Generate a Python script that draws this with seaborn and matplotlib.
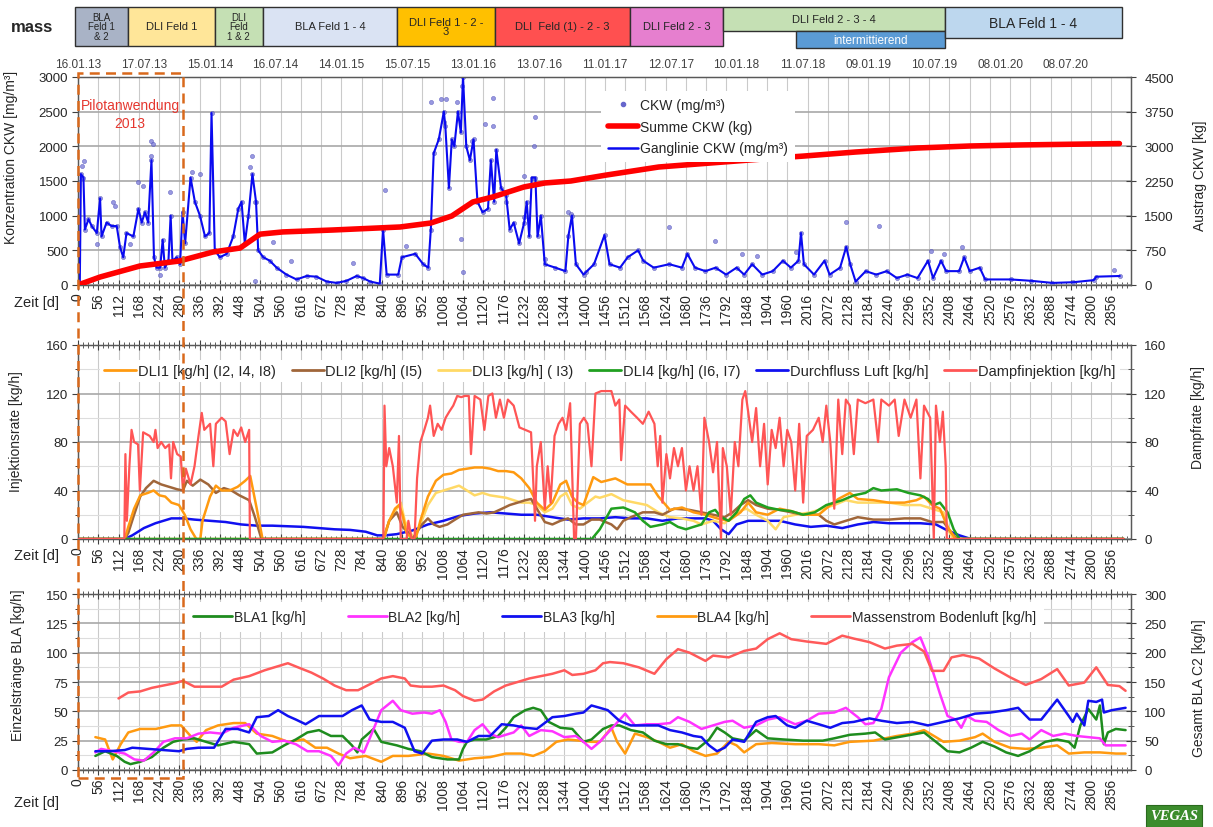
import numpy as np
import pandas as pd
import matplotlib
matplotlib.use("Agg")
import matplotlib.pyplot as plt
import seaborn as sns
from matplotlib.patches import Rectangle
from matplotlib.lines import Line2D
from matplotlib.ticker import MultipleLocator, FixedLocator
import matplotlib.transforms as mtransforms

# ---------------- DATA ----------------
XMAX = 2910
date_days = [0, 182, 364, 546, 728, 910, 1092, 1274, 1456, 1638, 1820, 2002, 2184, 2366, 2548, 2730]
date_labels = ["16.01.13", "17.07.13", "15.01.14", "16.07.14", "14.01.15", "15.07.15", "13.01.16",
               "13.07.16", "11.01.17", "12.07.17", "10.01.18", "11.07.18", "09.01.19", "10.07.19",
               "08.01.20", "08.07.20"]

phase_start = [-8, 138, 378, 511, 881, 1152, 1525, 1782, 1983, 2395]
phase_end = [138, 378, 511, 881, 1152, 1525, 1782, 2395, 2395, 2884]
phase_labels = ["BLA\nFeld 1\n& 2", "DLI Feld 1", "DLI\nFeld\n1 & 2", "BLA Feld 1 - 4", "DLI Feld 1 - 2 -\n3",
                "DLI  Feld (1) - 2 - 3", "DLI Feld 2 - 3", "DLI Feld 2 - 3 - 4", "intermittierend",
                "BLA Feld 1 - 4"]

# top panel: CKW concentration (mg/m3) and cumulative discharge (kg)
ckw_line = [(0, 0), (5, 30), (8, 1600), (15, 1550), (19, 800), (29, 950), (38, 850), (52, 750), (61, 1250),
            (65, 700), (79, 900), (93, 850), (107, 850), (116, 550), (125, 400), (134, 750), (153, 700),
            (167, 1100), (176, 900), (185, 1050), (194, 900), (203, 1800), (210, 400), (217, 250), (227, 250),
            (234, 650), (240, 250), (250, 350), (256, 1000), (261, 350), (273, 400), (282, 300), (289, 1050),
            (296, 600), (311, 1550), (323, 1200), (337, 1000), (351, 700), (363, 750), (369, 2480), (378, 500),
            (392, 400), (411, 450), (429, 700), (443, 1100), (452, 1200), (461, 600), (471, 1000), (482, 1600),
            (492, 1200), (498, 500), (512, 400), (530, 350), (549, 250), (576, 150), (604, 80), (632, 130),
            (659, 120), (687, 50), (715, 30), (742, 60), (770, 130), (788, 100), (807, 50), (834, 20),
            (843, 800), (853, 150), (885, 150), (895, 400), (932, 450), (954, 300), (968, 250), (975, 800),
            (983, 1900), (997, 2100), (1011, 2500), (1015, 2300), (1025, 1400), (1033, 2100), (1040, 2000),
            (1050, 2500), (1058, 2200), (1064, 3000), (1073, 2000), (1083, 1800), (1093, 2100), (1104, 1200),
            (1118, 1050), (1133, 1100), (1141, 1800), (1150, 1200), (1156, 1950), (1169, 1400), (1183, 1300),
            (1193, 800), (1204, 900), (1219, 600), (1233, 900), (1240, 1200), (1247, 700), (1254, 1550),
            (1264, 1550), (1270, 700), (1279, 1000), (1290, 300), (1319, 250), (1347, 200), (1355, 700),
            (1365, 1000), (1376, 300), (1397, 150), (1426, 300), (1455, 720), (1469, 300), (1498, 250),
            (1519, 400), (1548, 500), (1562, 350), (1591, 250), (1634, 300), (1669, 250), (1684, 450),
            (1705, 250), (1734, 200), (1762, 250), (1791, 150), (1820, 250), (1841, 150), (1863, 300),
            (1891, 150), (1920, 200), (1948, 350), (1970, 250), (1991, 350), (1998, 750), (2006, 300),
            (2034, 150), (2063, 350), (2077, 150), (2106, 250), (2123, 550), (2134, 300), (2149, 50),
            (2177, 200), (2206, 150), (2235, 200), (2263, 100), (2292, 150), (2320, 100), (2349, 350),
            (2363, 100), (2385, 350), (2399, 200), (2435, 200), (2449, 400), (2464, 200), (2492, 250),
            (2507, 80), (2578, 80), (2635, 60), (2693, 30), (2750, 40), (2807, 70), (2814, 120), (2879, 130)]

ckw_extra_pts = [(10, 1722), (17, 1794), (52, 592), (98, 1193), (102, 1145), (144, 592), (165, 1481),
                 (180, 1433), (201, 1866), (203, 2083), (208, 2035), (226, 144), (254, 1337), (314, 1626),
                 (337, 1602), (475, 1698), (482, 1866), (489, 1193), (489, 63), (540, 616), (590, 351),
                 (761, 317), (848, 1376), (907, 568), (975, 2645), (1004, 2684), (1011, 2347), (1018, 2684),
                 (1047, 2636), (1058, 664), (1061, 2867), (1064, 183), (1090, 2083), (1126, 2323),
                 (1147, 2694), (1147, 2300), (1176, 1337), (1183, 1193), (1233, 976), (1233, 1578),
                 (1259, 2010), (1264, 2419), (1290, 375), (1355, 1049), (1362, 1025), (1405, 183),
                 (1634, 832), (1760, 640), (1834, 447), (1877, 423), (1984, 471), (2123, 904), (2213, 856),
                 (2356, 495), (2392, 447), (2442, 543), (2864, 221)]

summe_ckw = [(0, 0), (61, 173), (171, 411), (280, 519), (373, 714), (448, 800), (503, 1100), (566, 1148),
             (705, 1190), (890, 1255), (975, 1341), (1033, 1493), (1091, 1796), (1146, 1904), (1232, 2120),
             (1290, 2207), (1362, 2250), (1461, 2380), (1605, 2553), (1749, 2640), (1892, 2726), (2006, 2790),
             (2149, 2877), (2320, 2964), (2464, 3007), (2608, 3030), (2878, 3060)]

# middle panel: injection rates (kg/h)
dli1 = [(0, 0), (129, 0), (139, 10), (155, 25), (172, 36), (193, 38), (209, 40), (225, 36), (241, 35), (258, 30),
        (279, 28), (295, 20), (311, 8), (327, 0), (338, 0), (344, 15), (365, 35), (381, 44), (397, 40), (419, 40),
        (441, 43), (462, 48), (476, 52), (494, 25), (510, 0), (844, 0), (860, 15), (876, 25), (887, 28),
        (897, 20), (908, 5), (924, 0), (933, 0), (946, 15), (967, 35), (989, 48), (1010, 53), (1032, 54),
        (1053, 57), (1075, 58), (1096, 59), (1118, 59), (1139, 58), (1161, 56), (1183, 56), (1204, 55),
        (1225, 50), (1247, 42), (1268, 30), (1290, 24), (1311, 30), (1333, 45), (1349, 48), (1365, 35),
        (1381, 30), (1397, 28), (1424, 51), (1446, 47), (1485, 50), (1518, 45), (1550, 45), (1582, 45),
        (1604, 35), (1636, 24), (1669, 26), (1701, 22), (1734, 20), (1766, 17), (1798, 15), (1831, 22),
        (1852, 30), (1874, 22), (1906, 20), (1939, 25), (1971, 23), (2004, 20), (2047, 20), (2079, 28),
        (2101, 33), (2133, 38), (2155, 33), (2198, 32), (2241, 30), (2284, 30), (2317, 32), (2338, 35),
        (2360, 28), (2382, 25), (2403, 10), (2425, 0), (2890, 0)]
dli2 = [(0, 0), (129, 0), (139, 5), (155, 20), (172, 35), (188, 42), (209, 48), (230, 45), (252, 43), (274, 41),
        (290, 40), (301, 48), (317, 44), (338, 49), (360, 45), (381, 38), (403, 42), (424, 40), (446, 36),
        (473, 32), (489, 18), (507, 0), (844, 0), (860, 15), (881, 22), (897, 10), (913, 5), (924, 0), (935, 5),
        (951, 12), (967, 17), (983, 12), (999, 10), (1021, 12), (1042, 16), (1064, 20), (1086, 21), (1107, 22),
        (1129, 21), (1150, 22), (1172, 25), (1193, 28), (1215, 30), (1236, 32), (1252, 33), (1268, 25),
        (1290, 14), (1311, 12), (1333, 15), (1354, 17), (1376, 12), (1397, 12), (1419, 16), (1442, 16),
        (1474, 12), (1490, 8), (1507, 15), (1528, 18), (1561, 22), (1593, 22), (1615, 20), (1647, 25),
        (1690, 24), (1723, 22), (1755, 20), (1787, 18), (1809, 22), (1831, 28), (1852, 32), (1874, 28),
        (1906, 25), (1939, 24), (1971, 22), (2004, 20), (2047, 20), (2068, 15), (2090, 12), (2122, 15),
        (2155, 18), (2198, 16), (2241, 16), (2284, 17), (2328, 17), (2360, 14), (2392, 14), (2414, 5),
        (2430, 0), (2890, 0)]
dli3 = [(0, 0), (846, 0), (860, 15), (881, 25), (892, 30), (903, 15), (919, 5), (930, 0), (946, 12), (967, 28),
        (989, 38), (1010, 40), (1032, 42), (1053, 44), (1075, 40), (1096, 36), (1118, 38), (1139, 36),
        (1161, 35), (1183, 34), (1204, 32), (1225, 30), (1247, 30), (1268, 28), (1290, 22), (1311, 25),
        (1333, 35), (1349, 38), (1365, 28), (1387, 25), (1408, 30), (1430, 35), (1442, 34), (1474, 37),
        (1507, 32), (1539, 30), (1572, 28), (1604, 22), (1636, 18), (1669, 17), (1701, 15), (1723, 12),
        (1755, 15), (1787, 13), (1820, 22), (1847, 25), (1874, 20), (1906, 15), (1928, 8), (1950, 18),
        (1982, 20), (2025, 22), (2058, 25), (2090, 28), (2122, 32), (2155, 30), (2198, 30), (2241, 30),
        (2284, 28), (2328, 28), (2360, 25), (2392, 22), (2409, 5), (2420, 0), (2890, 0)]
dli4 = [(0, 0), (1420, 0), (1442, 8), (1474, 25), (1507, 26), (1539, 22), (1561, 15), (1582, 10), (1615, 12),
        (1636, 14), (1658, 10), (1680, 8), (1701, 10), (1723, 12), (1744, 22), (1761, 24), (1777, 18),
        (1798, 15), (1820, 22), (1841, 33), (1858, 36), (1874, 30), (1906, 26), (1939, 24), (1971, 23),
        (2004, 20), (2036, 22), (2068, 28), (2090, 30), (2112, 32), (2144, 36), (2176, 38), (2198, 42),
        (2220, 40), (2263, 41), (2295, 38), (2328, 36), (2349, 33), (2365, 28), (2382, 30), (2403, 22),
        (2420, 8), (2436, 0), (2890, 0)]
luft = [(0, 0), (129, 0), (150, 3), (182, 9), (214, 13), (258, 17), (290, 17), (322, 16), (365, 15), (408, 14),
        (451, 12), (494, 11), (537, 11), (580, 10.5), (623, 10), (666, 9), (709, 8), (752, 7.5), (795, 6),
        (827, 3), (849, 3), (881, 4), (924, 7), (967, 12), (1010, 15), (1053, 19), (1096, 21), (1139, 22),
        (1183, 21), (1225, 20), (1268, 20), (1311, 18), (1354, 16), (1397, 17), (1442, 17), (1485, 18),
        (1528, 17), (1572, 17), (1615, 15), (1658, 17), (1701, 17), (1734, 17), (1755, 15), (1777, 8),
        (1798, 4), (1820, 12), (1852, 15), (1896, 15), (1939, 15), (1982, 12), (2025, 10), (2068, 11),
        (2112, 9), (2155, 12), (2198, 14), (2241, 13), (2284, 13), (2328, 13), (2371, 12), (2403, 7),
        (2436, 3), (2468, 0), (2890, 0)]
dampf = [(0, 0), (128, 0), (131, 70), (135, 15), (142, 60), (148, 90), (155, 80), (166, 78), (171, 40), (180, 88),
         (198, 85), (209, 80), (214, 90), (220, 75), (230, 80), (241, 75), (252, 78), (257, 50), (263, 80),
         (274, 70), (284, 68), (290, 40), (298, 58), (311, 45), (322, 60), (333, 85), (342, 104), (349, 90),
         (365, 95), (374, 60), (381, 95), (397, 100), (408, 97), (419, 70), (430, 90), (441, 85), (451, 92),
         (462, 80), (473, 90), (475, 0), (844, 0), (847, 110), (852, 60), (860, 75), (870, 60), (881, 30),
         (887, 85), (892, 0), (908, 0), (913, 15), (922, 0), (930, 0), (937, 50), (946, 80), (957, 90),
         (967, 100), (973, 110), (983, 85), (994, 95), (1005, 90), (1016, 100), (1026, 105), (1037, 110),
         (1048, 118), (1059, 117), (1069, 118), (1080, 118), (1086, 70), (1096, 118), (1112, 115), (1123, 90),
         (1134, 118), (1145, 120), (1155, 100), (1166, 115), (1177, 100), (1188, 115), (1204, 110), (1220, 92),
         (1236, 90), (1252, 88), (1263, 15), (1268, 60), (1279, 80), (1290, 25), (1298, 60), (1306, 30),
         (1317, 85), (1328, 95), (1339, 100), (1349, 90), (1360, 112), (1371, 0), (1376, 0), (1387, 95),
         (1398, 100), (1408, 95), (1419, 60), (1430, 120), (1446, 122), (1474, 122), (1485, 110), (1496, 115),
         (1501, 65), (1512, 110), (1528, 105), (1545, 100), (1561, 95), (1577, 105), (1593, 95), (1602, 60),
         (1609, 85), (1615, 30), (1626, 70), (1636, 50), (1647, 75), (1658, 60), (1669, 75), (1680, 40),
         (1690, 60), (1701, 40), (1712, 60), (1723, 20), (1731, 100), (1744, 80), (1755, 55), (1766, 80),
         (1777, 0), (1782, 75), (1793, 60), (1804, 20), (1815, 80), (1825, 60), (1836, 115), (1844, 122),
         (1852, 105), (1863, 80), (1874, 108), (1885, 60), (1896, 95), (1906, 45), (1917, 90), (1928, 75),
         (1939, 100), (1950, 60), (1960, 90), (1971, 80), (1982, 40), (1993, 95), (2004, 30), (2014, 85),
         (2031, 90), (2047, 100), (2058, 80), (2068, 110), (2079, 80), (2090, 25), (2101, 115), (2112, 70),
         (2122, 115), (2133, 110), (2144, 70), (2155, 115), (2176, 112), (2198, 115), (2211, 80), (2220, 115),
         (2241, 110), (2257, 115), (2268, 85), (2284, 115), (2301, 100), (2317, 115), (2328, 50), (2338, 110),
         (2355, 100), (2365, 0), (2371, 110), (2382, 80), (2390, 105), (2398, 60), (2401, 0), (2890, 0)]

# bottom panel: soil vapour extraction (kg/h)
bla1 = [(48, 12), (75, 16), (107, 12), (129, 7), (145, 5), (172, 7), (204, 11), (236, 19), (263, 24), (290, 26),
        (322, 27), (354, 24), (387, 21), (430, 24), (473, 22), (494, 14), (537, 15), (570, 21), (602, 26),
        (634, 32), (666, 34), (699, 29), (731, 29), (757, 21), (772, 15), (784, 26), (817, 35), (838, 24),
        (881, 21), (913, 18), (946, 16), (978, 11), (1021, 9), (1053, 9), (1064, 18), (1075, 24), (1096, 26),
        (1128, 26), (1161, 29), (1182, 36), (1204, 45), (1236, 51), (1258, 53), (1279, 51), (1301, 41),
        (1333, 36), (1366, 35), (1397, 24), (1419, 26), (1451, 35), (1474, 38), (1496, 38), (1528, 34),
        (1561, 32), (1593, 25), (1626, 22), (1658, 22), (1690, 19), (1712, 18), (1744, 26), (1766, 36),
        (1787, 32), (1809, 27), (1841, 25), (1874, 34), (1906, 27), (1950, 26), (2004, 25), (2058, 25),
        (2090, 27), (2133, 30), (2176, 31), (2203, 32), (2230, 26), (2284, 29), (2338, 32), (2371, 24),
        (2403, 16), (2436, 15), (2468, 19), (2500, 24), (2533, 20), (2565, 15), (2598, 12), (2630, 16),
        (2673, 24), (2706, 26), (2738, 24), (2754, 19), (2770, 38), (2792, 52), (2814, 43), (2824, 55),
        (2835, 22), (2846, 32), (2868, 35), (2895, 34)]
bla2 = [(48, 15), (64, 18), (96, 16), (129, 14), (156, 9), (182, 8), (209, 15), (236, 24), (268, 27), (301, 27),
        (333, 31), (365, 32), (397, 31), (430, 36), (473, 39), (505, 29), (537, 24), (570, 25), (602, 22),
        (634, 16), (666, 16), (699, 12), (720, 4), (741, 14), (763, 19), (790, 15), (817, 35), (838, 51),
        (870, 59), (892, 51), (924, 48), (957, 49), (978, 48), (1000, 51), (1016, 41), (1032, 26), (1053, 24),
        (1075, 24), (1096, 34), (1118, 39), (1139, 31), (1161, 28), (1182, 30), (1204, 32), (1225, 38),
        (1247, 29), (1279, 34), (1311, 33), (1344, 28), (1376, 29), (1397, 24), (1419, 18), (1442, 24),
        (1474, 35), (1512, 48), (1539, 38), (1572, 39), (1604, 39), (1636, 40), (1658, 45), (1690, 41),
        (1723, 35), (1755, 38), (1787, 41), (1809, 42), (1841, 36), (1874, 38), (1906, 43), (1939, 45),
        (1982, 39), (2014, 42), (2047, 48), (2090, 49), (2122, 53), (2155, 45), (2176, 39), (2198, 40),
        (2220, 52), (2241, 79), (2274, 100), (2306, 109), (2328, 113), (2349, 97), (2382, 65), (2403, 46),
        (2425, 43), (2441, 36), (2457, 46), (2479, 42), (2511, 41), (2544, 34), (2576, 29), (2608, 31),
        (2630, 26), (2662, 34), (2695, 29), (2727, 31), (2760, 29), (2792, 28), (2824, 27), (2840, 21),
        (2895, 21)]
bla3 = [(48, 16), (86, 16), (129, 17), (150, 19), (193, 18), (236, 17), (279, 16), (301, 18), (333, 19),
        (376, 19), (408, 35), (441, 35), (473, 32), (494, 45), (527, 46), (553, 51), (580, 46), (602, 43),
        (629, 39), (666, 46), (688, 46), (731, 46), (757, 51), (784, 55), (806, 43), (838, 41), (870, 41),
        (903, 36), (930, 16), (951, 14), (978, 25), (1010, 26), (1048, 26), (1075, 24), (1107, 29), (1139, 29),
        (1171, 39), (1204, 38), (1236, 36), (1268, 35), (1311, 45), (1344, 46), (1376, 48), (1397, 49),
        (1419, 55), (1442, 53), (1464, 51), (1496, 42), (1528, 38), (1572, 38), (1604, 38), (1636, 34),
        (1669, 32), (1701, 29), (1723, 28), (1744, 21), (1766, 16), (1787, 19), (1809, 26), (1841, 24),
        (1874, 41), (1906, 45), (1928, 46), (1960, 38), (1982, 36), (2014, 42), (2047, 39), (2079, 36),
        (2112, 40), (2144, 41), (2187, 44), (2220, 42), (2263, 40), (2306, 41), (2349, 38), (2392, 41),
        (2436, 44), (2479, 48), (2522, 49), (2565, 51), (2598, 53), (2630, 43), (2662, 43), (2706, 60),
        (2738, 46), (2749, 41), (2760, 48), (2781, 38), (2792, 59), (2814, 58), (2830, 60), (2835, 49),
        (2857, 51), (2895, 53)]
bla4 = [(48, 28), (75, 26), (96, 9), (118, 22), (139, 32), (172, 35), (215, 35), (258, 38), (285, 38), (311, 29),
        (328, 24), (354, 34), (387, 38), (430, 40), (462, 40), (494, 31), (537, 29), (580, 24), (623, 26),
        (656, 19), (688, 19), (720, 14), (752, 10), (795, 12), (838, 7), (870, 12), (913, 12), (967, 14),
        (1010, 12), (1053, 8), (1096, 10), (1139, 11), (1182, 14), (1225, 14), (1258, 12), (1290, 16),
        (1322, 24), (1354, 26), (1387, 25), (1419, 24), (1442, 24), (1474, 36), (1490, 24), (1512, 14),
        (1539, 31), (1572, 28), (1604, 24), (1636, 19), (1669, 22), (1701, 16), (1734, 12), (1766, 14),
        (1798, 24), (1820, 21), (1841, 15), (1874, 22), (1917, 23), (1982, 22), (2047, 22), (2090, 21),
        (2133, 24), (2198, 25), (2263, 29), (2306, 31), (2338, 34), (2371, 28), (2392, 24), (2436, 25),
        (2479, 28), (2500, 31), (2533, 24), (2576, 19), (2619, 18), (2662, 19), (2706, 21), (2738, 14),
        (2781, 15), (2824, 15), (2868, 14), (2895, 14)]
massenstrom = [(112, 122), (139, 132), (172, 134), (204, 140), (236, 144), (268, 148), (290, 152), (322, 142),
               (365, 142), (397, 142), (430, 154), (473, 160), (516, 170), (548, 176), (580, 182), (612, 174),
               (645, 166), (677, 156), (709, 144), (741, 136), (774, 136), (806, 146), (838, 156), (870, 160),
               (903, 156), (919, 144), (946, 142), (978, 142), (1010, 144), (1042, 136), (1064, 126), (1096, 118),
               (1118, 120), (1150, 134), (1182, 144), (1215, 150), (1247, 156), (1279, 160), (1311, 164),
               (1344, 170), (1366, 162), (1397, 164), (1430, 170), (1451, 182), (1470, 184), (1507, 182),
               (1550, 175), (1593, 164), (1626, 189), (1658, 206), (1690, 200), (1734, 186), (1755, 195),
               (1798, 192), (1841, 203), (1874, 207), (1906, 223), (1939, 233), (1971, 223), (2014, 219),
               (2068, 215), (2112, 229), (2144, 224), (2187, 218), (2230, 207), (2263, 212), (2306, 215),
               (2338, 202), (2360, 169), (2392, 169), (2414, 192), (2446, 196), (2490, 190), (2533, 173),
               (2576, 158), (2619, 145), (2662, 155), (2706, 172), (2738, 144), (2781, 149), (2814, 175),
               (2846, 145), (2878, 143), (2895, 135)]

pilot_end_day = 290

# ---------------- STYLE ----------------
sns.set_style("white")
plt.rcParams['font.family'] = ['Liberation Sans', 'DejaVu Sans']
plt.rcParams['axes.linewidth'] = 0.9
TXT = '#262626'
W, H = 1213, 828

fig = plt.figure(figsize=(W / 100, H / 100), dpi=100)


def axrect(x0, y0, x1, y1):
    return [x0 / W, 1 - y1 / H, (x1 - x0) / W, (y1 - y0) / H]


ax1 = fig.add_axes(axrect(78, 78, 1131, 286))
ax2 = fig.add_axes(axrect(78, 346, 1131, 540))
ax3 = fig.add_axes(axrect(78, 595, 1131, 771))
axh = fig.add_axes(axrect(78, 0, 1131, 55))


def draw_line(ax, pts, color, lw, zorder=3):
    d = pd.DataFrame(pts, columns=["day", "val"])
    sns.lineplot(data=d, x="day", y="val", ax=ax, color=color, lw=lw, estimator=None,
                 sort=False, legend=False, zorder=zorder)


def style_axes(ax, top_ticks):
    ax.set_xlim(0, XMAX)
    ax.xaxis.set_major_locator(MultipleLocator(56))
    ax.xaxis.set_minor_locator(MultipleLocator(14))
    ax.tick_params(axis='x', which='major', direction='inout', length=7, width=0.8,
                   labelsize=10, labelrotation=90, pad=2, color='#404040', labelcolor=TXT,
                   bottom=True, top=top_ticks)
    ax.tick_params(axis='x', which='minor', direction='inout', length=4, width=0.6,
                   color='#404040', bottom=True, top=top_ticks)
    ax.tick_params(axis='y', which='major', direction='out', length=4, width=0.8, labelsize=9.5,
                   labelcolor=TXT, color='#404040', left=True, pad=3)
    ax.grid(True, axis='x', which='major', color='#CACACA', lw=0.8)
    ax.grid(True, axis='y', which='major', color='#A8A8A8', lw=1.2)
    ax.grid(True, axis='y', which='minor', color='#DDDDDD', lw=0.8)
    ax.set_xlabel("")
    for s in ax.spines.values():
        s.set_color('#595959')
        s.set_linewidth(0.9)


def style_twin(tw, lo, hi, step):
    tw.set_ylim(lo, hi)
    tw.yaxis.set_major_locator(MultipleLocator(step))
    tw.yaxis.set_minor_locator(MultipleLocator(step / 2))
    tw.tick_params(axis='y', which='major', direction='inout', length=7, width=0.8, labelsize=9.5,
                   labelcolor=TXT, color='#404040', right=True, pad=6)
    tw.tick_params(axis='y', which='minor', direction='inout', length=4, width=0.6, color='#404040', right=True)
    tw.set_xlabel("")
    for s in tw.spines.values():
        s.set_color('#595959')
        s.set_linewidth(0.9)


# ---------------- TOP PANEL ----------------
tw1 = ax1.twinx()
ckw_df = pd.DataFrame(ckw_line + ckw_extra_pts, columns=["day", "val"])
sns.scatterplot(data=ckw_df, x="day", y="val", ax=ax1, s=9, color='#7777D6', alpha=0.75,
                edgecolor='#4A4AB8', linewidth=0.4, zorder=2, legend=False)
draw_line(ax1, ckw_line, '#0A0AF0', 1.5, zorder=3)
draw_line(tw1, summe_ckw, '#FF0000', 4.0, zorder=4)
ax1.set_ylim(0, 3000)
ax1.yaxis.set_major_locator(MultipleLocator(500))
style_axes(ax1, top_ticks=False)
style_twin(tw1, 0, 4500, 750)
tw1.yaxis.set_minor_locator(FixedLocator([]))
ax1.set_ylabel("Konzentration CKW [mg/m³]", fontsize=10, color=TXT)
ax1.yaxis.set_label_coords(-0.057, 0.62)
tw1.set_ylabel("Austrag CKW [kg]", fontsize=10, color=TXT)
tw1.yaxis.set_label_coords(1.059, 0.53)

sec = ax1.secondary_xaxis('top')
sec.set_xticks(date_days, labels=date_labels)
sec.tick_params(length=0, labelsize=8.5, pad=5, labelcolor='#404040')
sec.spines['top'].set_visible(False)

h_top = [Line2D([], [], ls='none', marker='o', ms=3, color='#6666CC'),
         Line2D([], [], color='#FF0000', lw=4),
         Line2D([], [], color='#0A0AF0', lw=1.8)]
leg1 = tw1.legend(h_top, ["CKW (mg/m³)", "Summe CKW (kg)", "Ganglinie CKW (mg/m³)"], loc='upper left',
                  bbox_to_anchor=(0.49, 0.965), fontsize=10, frameon=True, facecolor='white',
                  edgecolor='none', framealpha=1, labelspacing=0.55, handlelength=2.2, handletextpad=0.1,
                  borderpad=0.5)
leg1.set_zorder(10)

# ---------------- MIDDLE PANEL ----------------
tw2 = ax2.twinx()
draw_line(ax2, luft, '#1010F0', 1.8)
draw_line(ax2, dli3, '#FFD966', 1.8)
draw_line(ax2, dli2, '#A0663A', 1.8)
draw_line(ax2, dli1, '#FF9A10', 1.8)
draw_line(ax2, dli4, '#20A020', 1.8)
draw_line(tw2, dampf, '#FF5555', 1.6)
ax2.set_ylim(0, 160)
ax2.yaxis.set_major_locator(MultipleLocator(40))
ax2.yaxis.set_minor_locator(MultipleLocator(20))
style_axes(ax2, top_ticks=True)
style_twin(tw2, 0, 160, 40)
ax2.set_ylabel("Injektionsrate [kg/h]", fontsize=10, color=TXT)
ax2.yaxis.set_label_coords(-0.052, 0.56)
tw2.set_ylabel("Dampfrate [kg/h]", fontsize=10, color=TXT)
tw2.yaxis.set_label_coords(1.057, 0.63)

h_mid = [Line2D([], [], color=c, lw=2) for c in ['#FF9A10', '#A0663A', '#FFD966', '#20A020', '#1010F0', '#FF5555']]
leg2 = tw2.legend(h_mid, ["DLI1 [kg/h] (I2, I4, I8)", "DLI2 [kg/h] (I5)", "DLI3 [kg/h] ( I3)",
                          "DLI4 [kg/h] (I6, I7)", "Durchfluss Luft [kg/h]", "Dampfinjektion [kg/h]"],
                  loc='center', bbox_to_anchor=(0.505, 0.866), ncol=6, fontsize=10.5, frameon=True,
                  facecolor='white', edgecolor='none', framealpha=1, handlelength=2.2, handletextpad=0.1,
                  columnspacing=1.1, borderpad=0.3)
leg2.set_zorder(10)

# ---------------- BOTTOM PANEL ----------------
tw3 = ax3.twinx()
draw_line(ax3, bla4, '#FF9A10', 1.8)
draw_line(ax3, bla1, '#1E8C1E', 1.8)
draw_line(ax3, bla2, '#FF33FF', 1.8)
draw_line(ax3, bla3, '#1010F0', 1.8)
draw_line(tw3, massenstrom, '#FF5A5A', 1.8)
ax3.set_ylim(0, 150)
ax3.yaxis.set_major_locator(MultipleLocator(25))
ax3.yaxis.set_minor_locator(MultipleLocator(12.5))
style_axes(ax3, top_ticks=True)
style_twin(tw3, 0, 300, 50)
ax3.set_ylabel("Einzelstränge BLA [kg/h]", fontsize=10, color=TXT)
ax3.yaxis.set_label_coords(-0.05, 0.6)
tw3.set_ylabel("Gesamt BLA C2 [kg/h]", fontsize=10, color=TXT)
tw3.yaxis.set_label_coords(1.058, 0.47)

h_bot = [Line2D([], [], color=c, lw=2) for c in ['#1E8C1E', '#FF33FF', '#1010F0', '#FF9A10', '#FF5A5A']]
leg3 = tw3.legend(h_bot, ["BLA1 [kg/h]", "BLA2 [kg/h]", "BLA3 [kg/h]", "BLA4 [kg/h]",
                          "Massenstrom Bodenluft [kg/h]"],
                  loc='center left', bbox_to_anchor=(0.095, 0.87), ncol=5, fontsize=10, frameon=True,
                  facecolor='white', edgecolor='none', framealpha=1, handlelength=2.8, handletextpad=0.1,
                  columnspacing=3.05, borderpad=0.6)
leg3.set_zorder(10)

# "Zeit [d]" labels
for yy in (303, 556, 803):
    fig.text(36 / W, 1 - yy / H, "Zeit [d]", fontsize=10.5, color=TXT, ha='center', va='center')

# ---------------- HEADER ----------------
axh.set_xlim(0, XMAX)
axh.set_ylim(55, 0)
axh.axis('off')
box_colors = ['#A9B3C6', '#FFE699', '#C5E0B4', '#DAE3F3', '#FFC000', '#FF5050', '#E67FCF', '#C5E0B4',
              '#5B9BD5', '#BDD7EE']
box_y = [(8, 47), (8, 47), (8, 47), (8, 47), (8, 47), (8, 47), (8, 47), (8, 32), (32, 49), (8, 39)]
box_fs = [7, 8, 7, 8, 8, 8, 8, 8, 8.5, 10]
box_tc = [TXT] * 8 + ['white', TXT]
box_ty = [None] * 7 + [20, None, None]
for i in range(len(phase_start)):
    y0, y1 = box_y[i]
    axh.add_patch(Rectangle((phase_start[i], y0), phase_end[i] - phase_start[i], y1 - y0,
                            facecolor=box_colors[i], edgecolor='#303030', lw=1.0, clip_on=False))
    ty = box_ty[i] if box_ty[i] is not None else (y0 + y1) / 2
    axh.text((phase_start[i] + phase_end[i]) / 2, ty, phase_labels[i], ha='center', va='center',
             fontsize=box_fs[i], color=box_tc[i], linespacing=0.95, clip_on=False)
fig.text(32 / W, 1 - 27 / H, "mass", fontsize=12, fontweight='bold', color=TXT, ha='center', va='center')

# ---------------- PILOT RECTANGLE ----------------
trans = mtransforms.blended_transform_factory(ax1.transData, fig.transFigure)
rect = Rectangle((0, 1 - 779 / H), pilot_end_day, (779 - 74) / H, transform=trans, fill=False,
                 edgecolor='#D9691C', lw=1.8, ls=(0, (4, 2.5)), clip_on=False, zorder=20)
fig.add_artist(rect)
fig.text(130 / W, 1 - 115 / H, "Pilotanwendung\n2013", color='#E5372F', fontsize=10, ha='center',
         va='center', linespacing=1.3)

# VEGAS logo
fig.text(1174 / W, 1 - 817 / H, "VEGAS", fontsize=10.5, color='white', fontstyle='italic', fontweight='bold',
         family='Liberation Serif', ha='center', va='center',
         bbox=dict(boxstyle='square,pad=0.3', fc='#3C8C2C', ec='#2A6A1E', lw=0.8))

fig.savefig("out.png", dpi=100)
